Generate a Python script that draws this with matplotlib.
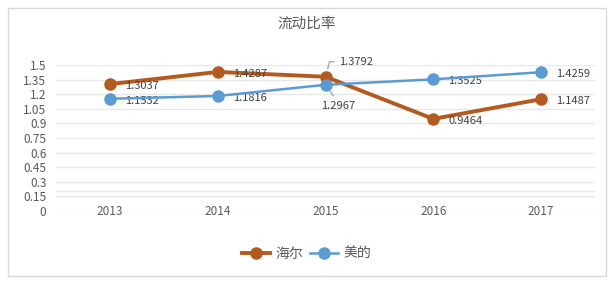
import matplotlib.pyplot as plt
from matplotlib.lines import Line2D
from matplotlib.patches import Rectangle

plt.rcParams['font.family'] = ['Noto Sans CJK SC', 'DejaVu Sans']

# 数据
years = ['2013', '2014', '2015', '2016', '2017']
haier = [1.3037, 1.4287, 1.3792, 0.9464, 1.1487]
midea = [1.1532, 1.1816, 1.2967, 1.3525, 1.4259]
yticks = [0, 0.15, 0.3, 0.45, 0.6, 0.75, 0.9, 1.05, 1.2, 1.35, 1.5]
ytick_labels = ['0', '0.15', '0.3', '0.45', '0.6', '0.75', '0.9', '1.05', '1.2', '1.35', '1.5']

c_haier = '#B35A1E'
c_midea = '#5B9BD5'
c_text = '#595959'
c_grid = '#E8E8E8'

fig = plt.figure(figsize=(6.14, 2.89), dpi=100)
fig.patches.append(Rectangle((8 / 614, 13 / 289), 598 / 614, 268 / 289, transform=fig.transFigure,
                             fill=False, edgecolor='#D9D9D9', linewidth=1))
ax = fig.add_axes([56 / 614, 1 - 211 / 289, 539 / 614, 146 / 289])

x = list(range(len(years)))
ax.plot(x, haier, color=c_haier, linewidth=2.8, marker='o', markersize=8, clip_on=False, zorder=3)
ax.plot(x, midea, color=c_midea, linewidth=1.8, marker='o', markersize=8, clip_on=False, zorder=4)

ax.set_xlim(-0.5, len(years) - 0.5)
ax.set_ylim(0, 1.5)
ax.set_yticks(yticks)
ax.set_yticklabels(ytick_labels)
ax.set_xticks(x)
ax.set_xticklabels(years)
ax.tick_params(axis='y', length=0, pad=7, labelsize=8.5, labelcolor=c_text)
ax.tick_params(axis='x', length=0, pad=-4, labelsize=8.5, labelcolor=c_text)
for s in ax.spines.values():
    s.set_visible(False)
ax.grid(axis='y', color=c_grid, linewidth=1)
ax.axhline(0.21, color=c_grid, linewidth=1, zorder=0)
ax.set_axisbelow(True)

# 数据标签
lab_kw = dict(textcoords='offset pixels', ha='left', va='center', fontsize=8, color='#404040')
for i, v in enumerate(haier):
    if i == 2:
        ax.annotate(f'{v:.4f}', (i, v), xytext=(14, 15), **lab_kw,
                    arrowprops=dict(arrowstyle='-', color='#A6A6A6', lw=1, relpos=(0, 0.5),
                                    shrinkA=2, shrinkB=6,
                                    connectionstyle='angle,angleA=0,angleB=75,rad=0'))
    else:
        ax.annotate(f'{v:.4f}', (i, v), xytext=(15, -2), **lab_kw)
for i, v in enumerate(midea):
    if i == 2:
        ax.annotate(f'{v:.4f}', (i, v), xytext=(-4, -21), **lab_kw,
                    arrowprops=dict(arrowstyle='-', color='#A6A6A6', lw=1, relpos=(0.45, 1),
                                    shrinkA=2, shrinkB=6))
    else:
        ax.annotate(f'{v:.4f}', (i, v), xytext=(15, -2), **lab_kw)

fig.text(0.5, 1 - 24 / 289, '流动比率', ha='center', va='center', fontsize=10.5, color=c_text)

handles = [Line2D([], [], color=c_haier, linewidth=2.8, marker='o', markersize=8),
           Line2D([], [], color=c_midea, linewidth=1.8, marker='o', markersize=8)]
fig.legend(handles, ['海尔', '美的'], loc='center', bbox_to_anchor=(0.5, 1 - 254 / 289), ncol=2,
           frameon=False, fontsize=10, handlelength=2.0, columnspacing=0.5, handletextpad=0.4,
           labelcolor=c_text)

fig.savefig('out.png', dpi=100)
